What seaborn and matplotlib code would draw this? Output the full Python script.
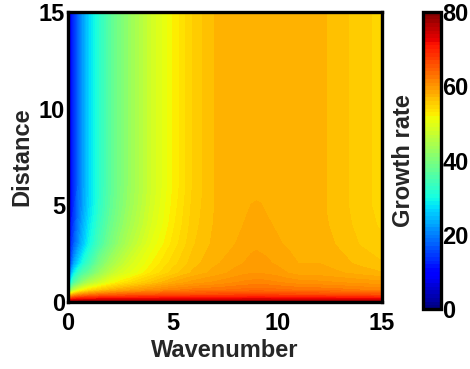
import numpy as np
import matplotlib
matplotlib.use("Agg")
import matplotlib.pyplot as plt
import seaborn as sns

# Data (growth rate on a wavenumber x distance grid)
wavenumber = [0, 0.15, 0.3, 0.5, 0.7, 1, 1.5, 2, 2.5, 3, 4, 5, 6,
              7, 7.5, 8, 8.5, 8.75, 9, 9.25, 9.5, 10, 10.5, 11, 12, 13, 14, 15]
distance = [0, 0.15, 0.35, 0.6, 1, 1.5, 2, 3, 4, 4.5, 5, 6, 15]

g_d0 = [77, 78, 78, 78.5, 78.5, 78.5, 78.5, 78.5, 78.5, 78.5, 78.5, 78.5, 78.5,
        78.5, 78.5, 78.5, 78.5, 78.5, 78.5, 78.5, 78.5, 78.5, 78.5, 78.5, 78.5, 78.5, 78.5, 78.5]
g_d015 = [68, 70, 71, 71.5, 72, 72, 72.3, 72.5, 72.5, 72.6, 72.8, 73, 73,
          73, 73, 73.1, 73.2, 73.2, 73.2, 73.2, 73.2, 73.1, 73, 73, 72.9, 72.7, 72.5, 72.3]
g_d035 = [52, 58, 60, 61.5, 62.5, 63.5, 64.5, 65, 65.5, 65.8, 66.2, 66.6, 66.8,
          67, 67.1, 67.2, 67.3, 67.35, 67.4, 67.35, 67.3, 67.2, 67.1, 67, 66.9, 66.6, 66.3, 66.1]
g_d06 = [30, 43, 47, 50, 52, 54, 56, 57.5, 58.5, 59.3, 60.7, 61.9, 62.6,
         62.9, 63.1, 63.3, 63.5, 63.55, 63.6, 63.55, 63.5, 63.4, 63.2, 63, 62.8, 62.5, 62.1, 61.8]
g_d1 = [10, 31, 36, 39, 42, 45, 48, 50.8, 52.7, 54.1, 56.2, 58.2, 59.5,
        60.2, 60.6, 61, 61.3, 61.4, 61.5, 61.45, 61.4, 61.1, 60.8, 60.5, 60.3, 60, 59.7, 59.4]
g_d15 = [7, 23, 29, 33, 35.5, 38, 42.5, 46.2, 48.6, 50, 53.2, 55.5, 57.3,
         58.4, 58.9, 59.4, 59.8, 59.9, 60, 59.9, 59.8, 59.5, 59, 58.6, 58.5, 58.1, 57.6, 57.1]
g_d2 = [6, 17, 23, 27, 30.5, 34, 39.5, 43.3, 46.2, 48.6, 52, 54.5, 56.6,
        57.8, 58.2, 58.7, 59.1, 59.3, 59.4, 59.3, 59.2, 58.8, 58.3, 58, 58, 57.4, 56.7, 56.1]
g_d3 = [5, 13, 17.5, 21.5, 25, 29.5, 35, 39.3, 42.7, 45.6, 50.2, 53.3, 55.9,
        57.3, 57.6, 58, 58.5, 58.7, 58.8, 58.7, 58.6, 58.1, 57.9, 57.7, 57.6, 56.8, 55.9, 55.2]
g_d4 = [4.5, 11.5, 15.5, 20, 23.5, 28, 33.5, 37.8, 41.2, 44.1, 49, 52.7, 55.6,
        57.1, 57.5, 57.85, 58.05, 58.25, 58.4, 58.3, 58.1, 57.9, 57.75, 57.55, 57.4, 56.5, 55.6, 54.8]
g_d45 = [4.2, 10.8, 14.7, 19.2, 22.7, 27.3, 32.8, 37.3, 40.7, 43.7, 48.7, 52.5, 55.5,
         57.05, 57.45, 57.75, 57.98, 58.1, 58.15, 58.1, 58, 57.85, 57.72, 57.52, 57.32, 56.45, 55.5, 54.7]
g_d5 = [4, 10.3, 14.3, 18.8, 22.3, 26.8, 32.3, 36.8, 40.2, 43.2, 48.4, 52.3, 55.4,
        57, 57.4, 57.7, 57.85, 58.01, 58.03, 58.01, 57.9, 57.8, 57.7, 57.5, 57.3, 56.4, 55.4, 54.6]
g_d6 = [4, 10, 14, 18.5, 22, 26.5, 32, 36.5, 39.8, 42.8, 48, 52, 55.2,
        57, 57.4, 57.7, 57.8, 57.85, 57.9, 57.9, 57.9, 57.8, 57.7, 57.5, 57.3, 56.4, 55.4, 54.6]
g_d15top = [4, 10, 14, 18.5, 22, 26.5, 32, 36.5, 39.8, 42.8, 48, 52, 55.2,
            57, 57.4, 57.7, 57.8, 57.85, 57.9, 57.9, 57.9, 57.8, 57.7, 57.5, 57.3, 56.4, 55.4, 54.6]

growth = np.array([g_d0, g_d015, g_d035, g_d06, g_d1, g_d15, g_d2, g_d3,
                   g_d4, g_d45, g_d5, g_d6, g_d15top])

sns.set_theme(style="white")
plt.rcParams['font.family'] = ['Liberation Sans', 'DejaVu Sans']
plt.rcParams['font.weight'] = 'bold'

cmap = matplotlib.colormaps['jet']

fig = plt.figure(figsize=(4.7, 3.69), dpi=100)
ax = fig.add_axes([68/470, 1-302/369, 314/470, 290/369])
cax = fig.add_axes([423/470, 1-309/369, 18/470, 297/369])

K, D = np.meshgrid(wavenumber, distance)
cs = ax.contourf(K, D, growth, levels=np.linspace(0, 80, 81), cmap=cmap, vmin=0, vmax=80)

ax.set_xlim(0, 15)
ax.set_ylim(0, 15)
ax.set_xticks([0, 5, 10, 15])
ax.set_yticks([0, 5, 10, 15])
ax.tick_params(axis='both', length=0, labelsize=17, colors='black')
ax.tick_params(axis='x', pad=7)
ax.tick_params(axis='y', pad=2)
for lab in ax.get_xticklabels() + ax.get_yticklabels():
    lab.set_fontweight('bold')
ax.set_xlabel("Wavenumber", fontsize=17, fontweight='bold', labelpad=3)
ax.set_ylabel("Distance", fontsize=17, fontweight='bold', labelpad=4)
for s in ax.spines.values():
    s.set_visible(True)
    s.set_linewidth(2.4)
    s.set_color('black')

cb = fig.colorbar(cs, cax=cax, ticks=[0, 20, 40, 60, 80])
cb.outline.set_linewidth(2.4)
cb.outline.set_edgecolor('black')
cax.tick_params(length=3, width=2, labelsize=17, pad=1, colors='black', direction='in')
for lab in cax.get_yticklabels():
    lab.set_fontweight('bold')
cax.yaxis.set_label_position('left')
cax.set_ylabel("Growth rate", fontsize=17, fontweight='bold', labelpad=6)

fig.savefig("out.png", dpi=100)
